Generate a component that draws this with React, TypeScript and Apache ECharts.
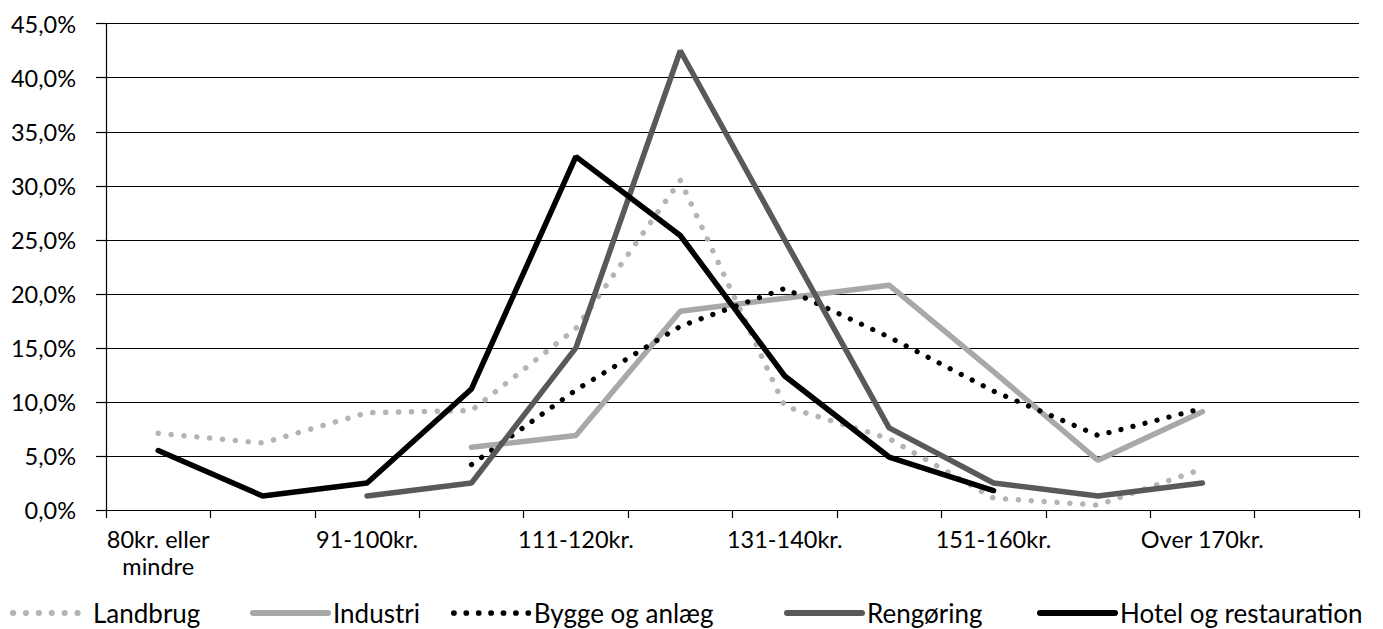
import React, { useEffect, useRef } from "react";
import * as echarts from "echarts";

const categories = [
  "80kr. eller mindre",
  "81-90kr.",
  "91-100kr.",
  "101-110kr.",
  "111-120kr.",
  "121-130kr.",
  "131-140kr.",
  "141-150kr.",
  "151-160kr.",
  "161-170kr.",
  "Over 170kr.",
  "",
];

const seriesNames = ["Landbrug", "Industri", "Bygge og anlæg", "Rengøring", "Hotel og restauration"];

const landbrug = [7.1, 6.2, 9.0, 9.2, 16.8, 30.5, 9.6, 6.6, 1.1, 0.45, 3.8, null];
const industri = [null, null, null, 5.8, 6.9, 18.4, 19.6, 20.8, 12.8, 4.6, 9.1, null];
const bygge = [null, null, null, 4.2, 11.1, 17.0, 20.5, 16.0, 11.0, 6.9, 9.4, null];
const rengoring = [null, null, 1.3, 2.5, 15.0, 42.5, 25.0, 7.6, 2.5, 1.3, 2.5, null];
const hotel = [5.5, 1.3, 2.5, 11.2, 32.7, 25.4, 12.4, 4.9, 1.8, null, null, null];

const yMin = 0;
const yMax = 45;
const yStep = 5;

const FONT = "Lato, 'Open Sans', sans-serif";

export default function App() {
  const ref = useRef<HTMLDivElement>(null);

  useEffect(() => {
    document.body.style.margin = "0";
    document.body.style.overflow = "hidden";
    if (!ref.current) return;
    const chart = echarts.init(ref.current, null, { renderer: "svg" });

    const styles = [
      { color: "#b4b4b4", width: 5.5, type: [0.1, 12.8] as any, cap: "round" },
      { color: "#a8a8a8", width: 5.5, type: "solid", cap: "round" },
      { color: "#000000", width: 5.2, type: [0.1, 12.3] as any, cap: "round" },
      { color: "#595959", width: 5.5, type: "solid", cap: "round" },
      { color: "#000000", width: 5.5, type: "solid", cap: "round" },
    ];
    const datasets = [landbrug, industri, bygge, rengoring, hotel];
    const legendLefts = [10, 250, 451, 784, 1037];

    chart.setOption({
      animation: false,
      backgroundColor: "#ffffff",
      textStyle: { fontFamily: FONT },
      grid: { left: 106, right: 24, top: 23.7, bottom: 119, containLabel: false },
      legend: seriesNames.map((n, i) => ({
        data: [n],
        left: legendLefts[i],
        top: 598,
        padding: 0,
        itemWidth: 75,
        itemHeight: 1,
        itemGap: 0,
        selectedMode: false,
        itemStyle: { color: "rgba(0,0,0,0)", borderWidth: 0, opacity: 0 },
        lineStyle: { width: styles[i].width + 0.5 },
        textStyle: { fontFamily: FONT, fontSize: 26, color: "#000", lineHeight: 30 },
      })),
      xAxis: {
        type: "category",
        data: categories,
        boundaryGap: true,
        axisLine: { show: true, lineStyle: { color: "#000", width: 1.2 } },
        axisTick: { show: true, interval: 0, length: 8, inside: false, lineStyle: { color: "#000", width: 1.2 } },
        axisLabel: {
          interval: 1,
          margin: 15,
          fontFamily: FONT,
          fontSize: 23.5,
          lineHeight: 27,
          color: "#000",
          formatter: (v: string) => v.replace(" eller ", " eller\n"),
        },
        splitLine: { show: false },
      },
      yAxis: {
        type: "value",
        min: yMin,
        max: yMax,
        interval: yStep,
        axisLine: { show: true, lineStyle: { color: "#000", width: 1.2 } },
        axisTick: { show: true, length: 10, inside: false, lineStyle: { color: "#000", width: 1.2 } },
        axisLabel: {
          margin: 30,
          fontFamily: FONT,
          fontSize: 23.5,
          color: "#000",
          formatter: (v: number) => v.toFixed(1).replace(".", ",") + "%",
        },
        splitLine: { show: true, lineStyle: { color: "#000", width: 1.2 } },
      },
      series: seriesNames.map((n, i) => ({
        name: n,
        type: "line",
        data: datasets[i],
        symbol: "none",
        connectNulls: false,
        lineStyle: styles[i],
        itemStyle: { color: styles[i].color },
      })),
    });

    return () => {
      chart.dispose();
    };
  }, []);

  return <div ref={ref} style={{ width: 1383, height: 629 }} />;
}
